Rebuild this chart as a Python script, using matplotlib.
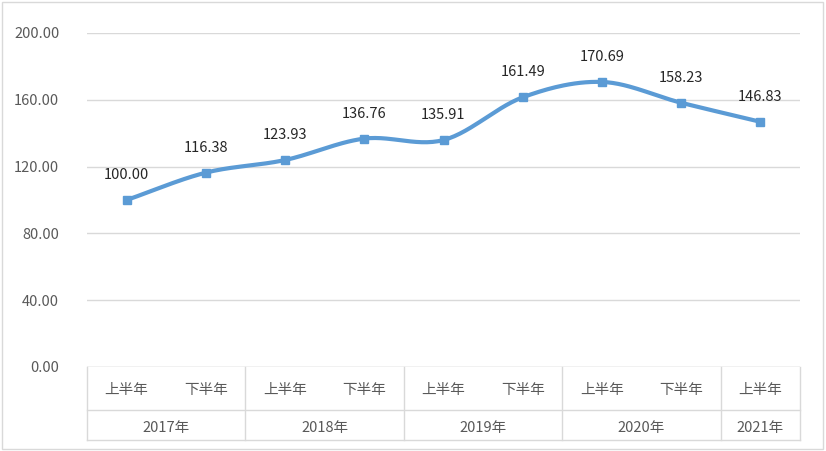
import numpy as np
import matplotlib.pyplot as plt
from matplotlib.lines import Line2D

plt.rcParams['font.family'] = ['Noto Sans CJK SC', 'DejaVu Sans']

halves = ["上半年", "下半年"] * 4 + ["上半年"]
years = ["2017年", "2018年", "2019年", "2020年", "2021年"]
year_spans = [2, 2, 2, 2, 1]
values = [100.00, 116.38, 123.93, 136.76, 135.91, 161.49, 170.69, 158.23, 146.83]


def catmull_rom(x, y, n=30):
    # smooth curve through the points, like Excel's smoothed line
    px = np.concatenate([[2 * x[0] - x[1]], x, [2 * x[-1] - x[-2]]])
    py = np.concatenate([[2 * y[0] - y[1]], y, [2 * y[-1] - y[-2]]])
    xs, ys = [], []
    t = np.linspace(0, 1, n)
    for i in range(1, len(px) - 2):
        for p, out in ((px, xs), (py, ys)):
            p0, p1, p2, p3 = p[i - 1], p[i], p[i + 1], p[i + 2]
            out.extend(0.5 * (2 * p1 + (-p0 + p2) * t + (2 * p0 - 5 * p1 + 4 * p2 - p3) * t ** 2
                              + (-p0 + 3 * p1 - 3 * p2 + p3) * t ** 3))
    return np.array(xs), np.array(ys)


fig = plt.figure(figsize=(8.26, 4.51), dpi=100)
ax = fig.add_axes([87 / 826, 84 / 451, 713 / 826, 334 / 451])

x = np.arange(len(values))
sx, sy = catmull_rom(x.astype(float), np.array(values))
ax.plot(sx, sy, color="#5B9BD5", lw=3, zorder=3)
ax.plot(x, values, "s", color="#5B9BD5", ms=6, zorder=4)
for xi, v in zip(x, values):
    ax.annotate(f"{v:.2f}", (xi, v), xytext=(0, 13), textcoords="offset points",
                ha="center", va="bottom", fontsize=10.5, color="#262626")

ax.set_xlim(-0.5, len(values) - 0.5)
ax.set_ylim(0, 200)
ax.set_yticks(np.arange(0, 201, 40))
ax.set_yticklabels([f"{t:.2f}" for t in range(0, 201, 40)], fontsize=10.5, color="#595959")
ax.grid(axis="y", color="#D9D9D9", lw=1)
ax.set_xticks([])
ax.tick_params(axis="y", length=0, pad=20)
for s in ax.spines.values():
    s.set_visible(False)
ax.axhline(0, color="#D9D9D9", lw=1)

# two-level category axis
n = len(values)
row1, bottom = -0.129, -0.219
for i, h in enumerate(halves):
    ax.text((i + 0.5) / n, -0.069, h, transform=ax.transAxes, ha="center", va="center",
            fontsize=10.5, color="#595959")
ax.add_line(Line2D([0, 1], [row1, row1], transform=ax.transAxes, color="#D9D9D9", lw=1, clip_on=False))
ax.add_line(Line2D([0, 1], [bottom, bottom], transform=ax.transAxes, color="#D9D9D9", lw=1, clip_on=False))
pos = 0
edges = [0]
for yr, span in zip(years, year_spans):
    ax.text((pos + span / 2) / n, -0.183, yr, transform=ax.transAxes, ha="center", va="center",
            fontsize=10.5, color="#595959")
    pos += span
    edges.append(pos)
for e in edges:
    ax.add_line(Line2D([e / n, e / n], [0, bottom], transform=ax.transAxes, color="#D9D9D9",
                       lw=1, clip_on=False))

fig.patches.append(plt.Rectangle((0.002, 0.004), 0.994, 0.992, transform=fig.transFigure,
                                 fill=False, edgecolor="#D9D9D9", lw=1))
fig.savefig("out.png", dpi=100)
